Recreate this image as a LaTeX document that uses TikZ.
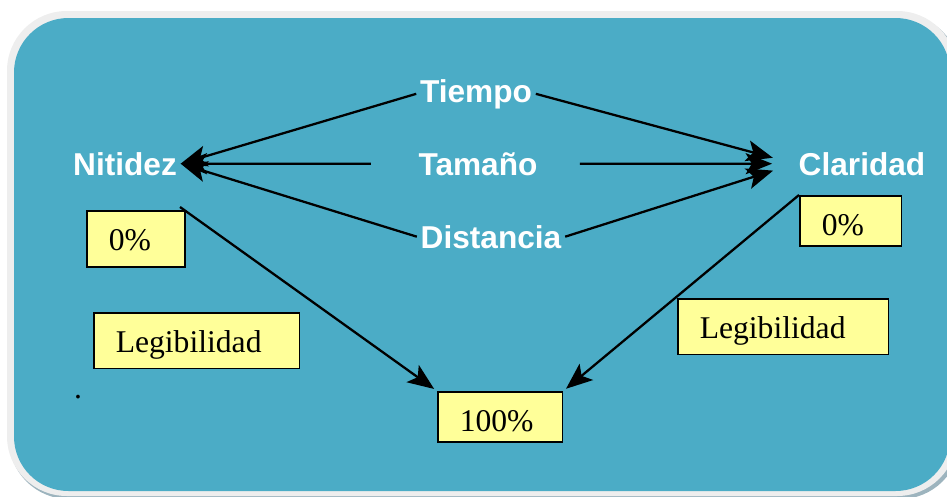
\documentclass[tikz,border=0pt]{standalone}
\usepackage{fontspec}
\setmainfont{Liberation Serif}
\setsansfont{Liberation Sans}
\usetikzlibrary{arrows.meta, positioning}
\definecolor{fondo}{HTML}{4BACC6}
\definecolor{borde}{HTML}{EEEEEE}
\definecolor{sombra}{HTML}{9DB4BE}
\definecolor{amarillo}{HTML}{FFFF99}
\tikzset{
  factor/.style={text=white, font=\sffamily\bfseries\fontsize{18}{20}\selectfont, inner sep=2pt, anchor=base},
  valor/.style={draw, fill=amarillo, line width=0.9pt, font=\fontsize{18}{20}\selectfont, anchor=north west, inner xsep=12.5pt, inner ysep=0pt, text height=22.5pt, align=left},
  flecha/.style={line width=1.3pt, -{Stealth[length=15pt, width=12pt, inset=3.5pt]}}
}

\begin{document}
\begin{tikzpicture}[x=0.02cm, y=-0.02cm]
\useasboundingbox (0,0) rectangle (947,497);
\fill[sombra, rounded corners=34pt] (9,14) rectangle (960,499);
\fill[borde, rounded corners=34pt] (7,11) rectangle (957,496);
\fill[fondo, rounded corners=31pt] (14,18) rectangle (950,491);

\node[factor] (nitidez) at (125,175) {Nitidez};
\node[factor] (tiempo) at (476,102) {Tiempo};
\node[factor] (tamano) at (478,175) {Tamaño};
\node[factor] (distancia) at (491,248) {Distancia};
\node[factor] (claridad) at (862,175) {Claridad};

\node[valor, text width=31pt, text depth=9.6pt] (cero1) at (86,210) {0\%};
\node[valor, text width=33pt, text depth=6.2pt] (cero2) at (799,195) {0\%};
\node[valor, text width=92pt, text depth=9.1pt] (legib1) at (93,312) {Legibilidad};
\node[valor, text width=95pt, text depth=9.1pt] (legib2) at (677,298) {Legibilidad};
\node[valor, text width=46pt, text depth=6.2pt] (cien) at (437,391) {100\%};
\node[font=\fontsize{18}{20}\selectfont, inner sep=0pt, anchor=base] (punto) at (78,398) {.};

\coordinate (inicio) at (180,207);
\draw[flecha] (tiempo.west) -- (nitidez.east);
\draw[flecha, shorten <=25pt] (tamano.west) -- (nitidez.east);
\draw[flecha] (distancia.west) -- (nitidez.east);
\draw[flecha, shorten >=13pt] (tiempo.east) -- (claridad.west);
\draw[flecha, shorten <=22pt, shorten >=13pt] (tamano.east) -- (claridad.west);
\draw[flecha, shorten >=13pt] (distancia.east) -- (claridad.west);
\draw[flecha, shorten >=2pt] (inicio) -- (cien.north west);
\draw[flecha, shorten >=2pt] (cero2.north west) -- (cien.north east);
\end{tikzpicture}
\end{document}
